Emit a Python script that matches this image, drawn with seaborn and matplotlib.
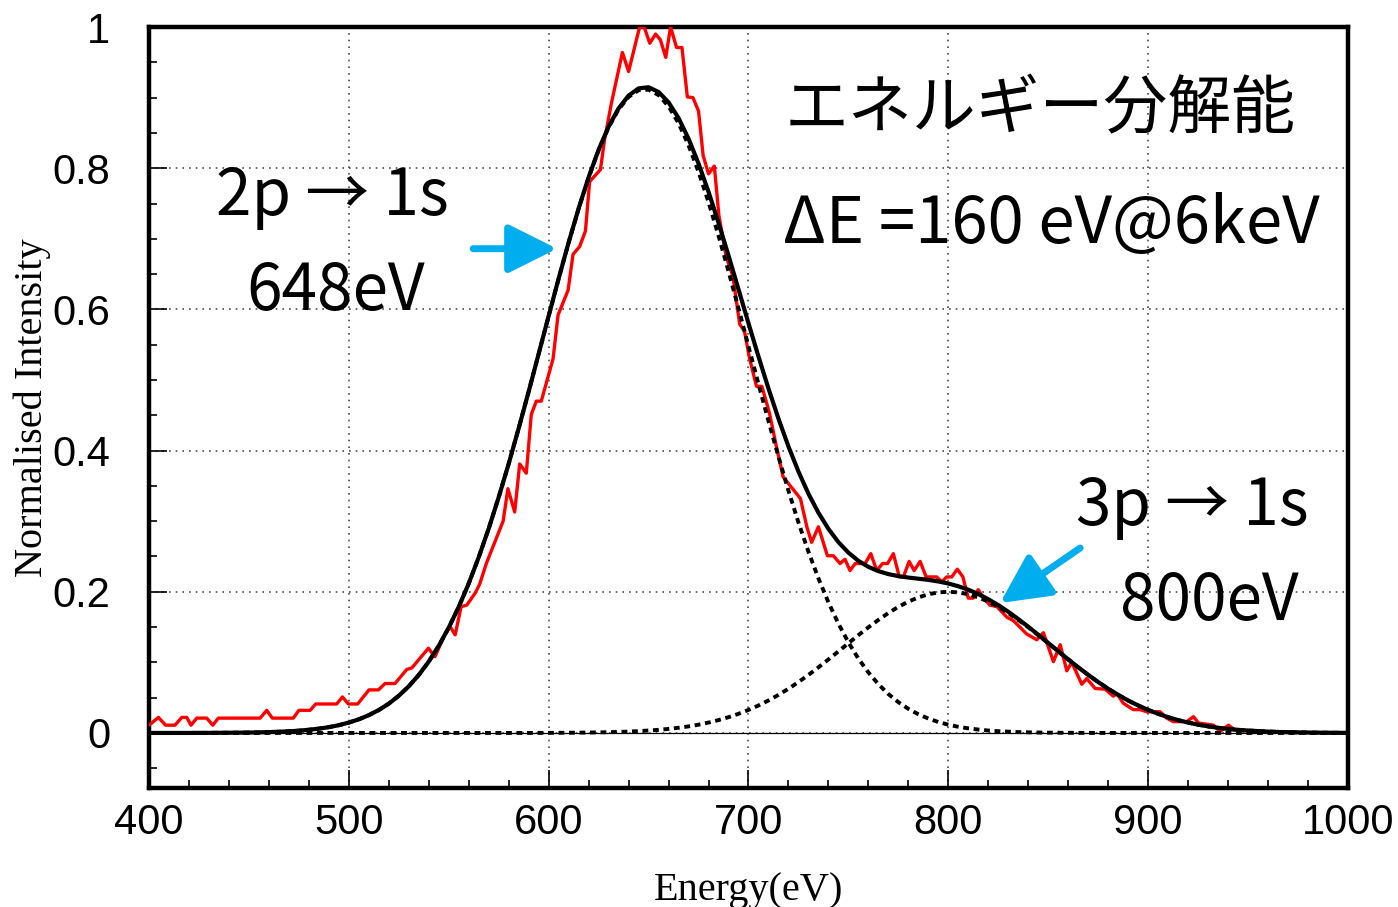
import matplotlib
matplotlib.use("Agg")
import matplotlib.pyplot as plt
import seaborn as sns
from matplotlib.ticker import MultipleLocator

# ----------------------
# data
# ----------------------
energy = list(range(400, 1001, 5))

# 2p -> 1s gaussian component (dotted)
comp_2p = [0.0, 0.0, 0.0, 0.0, 0.0,
           0.0001, 0.0001, 0.0002, 0.0003, 0.0004,
           0.0006, 0.0008, 0.0012, 0.0017, 0.0023,
           0.0032, 0.0045, 0.0061, 0.0082, 0.0110,
           0.0147, 0.0193, 0.0252, 0.0325, 0.0415,
           0.0527, 0.0661, 0.0821, 0.1011, 0.1234,
           0.1492, 0.1786, 0.2118, 0.2489, 0.2896,
           0.3340, 0.3814, 0.4316, 0.4837, 0.5371,
           0.5907, 0.6436, 0.6947, 0.7427, 0.7867,
           0.8254, 0.8579, 0.8834, 0.9010, 0.9105,
           0.9113, 0.9036, 0.8876, 0.8637, 0.8325,
           0.7949, 0.7519, 0.7045, 0.6540, 0.6014,
           0.5477, 0.4943, 0.4419, 0.3913, 0.3432,
           0.2982, 0.2567, 0.2190, 0.1850, 0.1548,
           0.1283, 0.1053, 0.0857, 0.0691, 0.0551,
           0.0436, 0.0341, 0.0265, 0.0204, 0.0155,
           0.0117, 0.0087, 0.0065, 0.0048, 0.0034,
           0.0025, 0.0018, 0.0012, 0.0009, 0.0006,
           0.0004, 0.0003, 0.0002, 0.0001, 0.0001,
           0.0, 0.0, 0.0, 0.0, 0.0,
           0.0, 0.0, 0.0, 0.0, 0.0,
           0.0, 0.0, 0.0, 0.0, 0.0,
           0.0, 0.0, 0.0, 0.0, 0.0,
           0.0, 0.0, 0.0, 0.0, 0.0,
           0.0]

# 3p -> 1s gaussian component (dotted)
comp_3p = [0.0, 0.0, 0.0, 0.0, 0.0,
           0.0, 0.0, 0.0, 0.0, 0.0,
           0.0, 0.0, 0.0, 0.0, 0.0,
           0.0, 0.0, 0.0, 0.0, 0.0,
           0.0, 0.0, 0.0, 0.0, 0.0,
           0.0, 0.0, 0.0, 0.0, 0.0,
           0.0, 0.0, 0.0, 0.0, 0.0,
           0.0, 0.0, 0.0, 0.0, 0.0001,
           0.0001, 0.0002, 0.0003, 0.0004, 0.0006,
           0.0008, 0.0011, 0.0014, 0.0019, 0.0026,
           0.0034, 0.0044, 0.0057, 0.0073, 0.0093,
           0.0117, 0.0147, 0.0182, 0.0223, 0.0271,
           0.0326, 0.0389, 0.0460, 0.0539, 0.0626,
           0.0721, 0.0822, 0.0929, 0.1041, 0.1155,
           0.1271, 0.1385, 0.1496, 0.1601, 0.1699,
           0.1786, 0.1860, 0.1920, 0.1964, 0.1991,
           0.2000, 0.1991, 0.1964, 0.1920, 0.1860,
           0.1786, 0.1699, 0.1601, 0.1496, 0.1385,
           0.1271, 0.1155, 0.1041, 0.0929, 0.0822,
           0.0721, 0.0626, 0.0539, 0.0460, 0.0389,
           0.0326, 0.0271, 0.0223, 0.0182, 0.0147,
           0.0117, 0.0093, 0.0073, 0.0057, 0.0044,
           0.0034, 0.0026, 0.0019, 0.0014, 0.0011,
           0.0008, 0.0006, 0.0004, 0.0003, 0.0002,
           0.0001]

# total fit (solid black)
fit_total = [0.0, 0.0, 0.0, 0.0, 0.0,
             0.0001, 0.0001, 0.0002, 0.0003, 0.0004,
             0.0006, 0.0008, 0.0012, 0.0017, 0.0023,
             0.0032, 0.0045, 0.0061, 0.0082, 0.0110,
             0.0147, 0.0193, 0.0252, 0.0325, 0.0415,
             0.0527, 0.0661, 0.0821, 0.1011, 0.1234,
             0.1492, 0.1786, 0.2118, 0.2489, 0.2896,
             0.3340, 0.3814, 0.4316, 0.4837, 0.5372,
             0.5908, 0.6438, 0.6950, 0.7431, 0.7873,
             0.8262, 0.8590, 0.8848, 0.9029, 0.9131,
             0.9147, 0.9080, 0.8933, 0.8710, 0.8418,
             0.8066, 0.7666, 0.7227, 0.6763, 0.6285,
             0.5803, 0.5332, 0.4879, 0.4452, 0.4058,
             0.3703, 0.3389, 0.3119, 0.2891, 0.2703,
             0.2554, 0.2438, 0.2353, 0.2292, 0.2250,
             0.2222, 0.2201, 0.2185, 0.2168, 0.2146,
             0.2117, 0.2078, 0.2029, 0.1968, 0.1894,
             0.1811, 0.1717, 0.1613, 0.1505, 0.1391,
             0.1275, 0.1158, 0.1043, 0.0930, 0.0823,
             0.0721, 0.0626, 0.0539, 0.0460, 0.0389,
             0.0326, 0.0271, 0.0223, 0.0182, 0.0147,
             0.0117, 0.0093, 0.0073, 0.0057, 0.0044,
             0.0034, 0.0026, 0.0019, 0.0014, 0.0011,
             0.0008, 0.0006, 0.0004, 0.0003, 0.0002,
             0.0001]

# measured spectrum (red)
meas_energy = [400.0, 404.7, 408.3, 413.0, 416.4, 418.9, 421.0, 423.9, 428.9, 431.9,
               434.7, 455.6, 458.9, 461.7, 472.2, 475.0, 480.6, 483.4, 493.9, 496.8,
               499.8, 504.4, 510.1, 514.8, 518.1, 523.1, 529.0, 531.5, 539.8, 543.1,
               548.1, 550.6, 553.2, 556.2, 559.0, 563.2, 565.5, 568.8, 577.2, 579.6,
               583.0, 585.5, 588.8, 591.3, 593.8, 596.3, 602.2, 604.7, 609.7, 612.2,
               615.5, 618.4, 620.5, 625.9, 628.0, 631.4, 636.9, 640.0, 645.5, 647.8,
               650.6, 653.5, 655.9, 658.6, 661.0, 664.0, 666.7, 669.4, 672.2, 675.0,
               677.3, 680.0, 682.9, 685.2, 688.8, 692.2, 695.6, 698.0, 700.5, 704.0,
               706.7, 710.5, 713.8, 717.3, 719.8, 726.0, 729.2, 731.6, 735.0, 739.5,
               742.5, 745.8, 748.3, 750.8, 753.4, 758.4, 761.2, 764.2, 767.1, 769.6,
               772.5, 775.5, 777.5, 780.4, 782.9, 785.9, 788.9, 794.2, 796.7, 799.2,
               801.7, 804.5, 807.3, 810.0, 812.5, 815.0, 817.6, 820.9, 824.3, 829.3,
               832.6, 839.3, 844.3, 847.6, 852.6, 856.0, 859.3, 861.8, 866.8, 869.3,
               873.5, 878.5, 882.6, 884.3, 887.6, 892.6, 896.0, 899.3, 906.0, 909.3,
               912.6, 919.3, 922.7, 925.2, 932.7, 936.0, 940.2, 943.5, 956.0, 975.0]
meas_intensity = [0.011, 0.022, 0.011, 0.011, 0.022, 0.022, 0.011, 0.021, 0.021, 0.011,
                  0.021, 0.021, 0.032, 0.021, 0.021, 0.032, 0.032, 0.041, 0.041, 0.051,
                  0.041, 0.041, 0.061, 0.061, 0.070, 0.070, 0.090, 0.092, 0.120, 0.108,
                  0.140, 0.151, 0.139, 0.179, 0.181, 0.198, 0.211, 0.240, 0.300, 0.346,
                  0.313, 0.381, 0.368, 0.451, 0.470, 0.470, 0.530, 0.592, 0.627, 0.678,
                  0.689, 0.711, 0.781, 0.798, 0.841, 0.892, 0.964, 0.937, 1.000, 1.000,
                  0.977, 0.990, 0.982, 0.957, 1.000, 0.971, 0.971, 0.901, 0.900, 0.881,
                  0.818, 0.792, 0.803, 0.733, 0.675, 0.647, 0.579, 0.569, 0.531, 0.491,
                  0.491, 0.453, 0.408, 0.363, 0.354, 0.332, 0.292, 0.270, 0.292, 0.251,
                  0.251, 0.240, 0.246, 0.230, 0.240, 0.240, 0.254, 0.230, 0.240, 0.240,
                  0.254, 0.221, 0.221, 0.243, 0.230, 0.243, 0.221, 0.221, 0.214, 0.221,
                  0.221, 0.232, 0.221, 0.191, 0.191, 0.203, 0.191, 0.181, 0.179, 0.164,
                  0.159, 0.140, 0.132, 0.142, 0.101, 0.125, 0.088, 0.100, 0.069, 0.077,
                  0.063, 0.062, 0.052, 0.056, 0.042, 0.033, 0.033, 0.030, 0.030, 0.021,
                  0.016, 0.016, 0.023, 0.014, 0.011, 0.002, 0.011, 0.004, 0.002, 0.001]

x_ticks = [400, 500, 600, 700, 800, 900, 1000]
y_ticks = [0, 0.2, 0.4, 0.6, 0.8, 1.0]
y_tick_labels = ["0", "0.2", "0.4", "0.6", "0.8", "1"]

# ----------------------
# style
# ----------------------
sns.set_theme(style="white")
plt.rcParams["font.family"] = ["Liberation Sans", "DejaVu Sans", "Noto Sans CJK JP"]
for k in ["text.color", "axes.labelcolor", "xtick.color", "ytick.color"]:
    plt.rcParams[k] = "black"
ann_font = ["Noto Sans CJK JP", "DejaVu Sans"]
blue = "#00AEEF"
dots = (0, (1.5, 1.2))

fig = plt.figure(figsize=(13.98, 9.07), dpi=100)
ax = fig.add_axes([0.1066, 0.1312, 0.8576, 0.8390])

ax.axhline(0, color="black", lw=0.9, zorder=1)
sns.lineplot(x=meas_energy, y=meas_intensity, ax=ax, color="red", lw=2.4,
             estimator=None, sort=False, zorder=3)
sns.lineplot(x=energy, y=comp_2p, ax=ax, color="black", lw=2.8,
             linestyle=dots, estimator=None, sort=False, zorder=4)
sns.lineplot(x=energy, y=comp_3p, ax=ax, color="black", lw=2.8,
             linestyle=dots, estimator=None, sort=False, zorder=4)
sns.lineplot(x=energy, y=fit_total, ax=ax, color="black", lw=3.0,
             estimator=None, sort=False, zorder=5)

ax.set_xlim(400, 1000)
ax.set_ylim(-0.078, 1.0)
ax.set_xticks(x_ticks)
ax.set_yticks(y_ticks)
ax.set_yticklabels(y_tick_labels)
ax.xaxis.set_minor_locator(MultipleLocator(20))
ax.yaxis.set_minor_locator(MultipleLocator(0.05))
ax.tick_params(which="both", direction="in", top=False, right=False,
               bottom=True, left=True, color="black", width=1.2)
ax.tick_params(which="major", length=13, labelsize=30, labelcolor="black")
ax.tick_params(axis="y", which="major", pad=28)
ax.tick_params(axis="x", which="major", pad=11)
ax.tick_params(which="minor", length=6)

ax.grid(True, which="major", linestyle=(0, (1, 3)), color="0.3", lw=1.2)
for s in ax.spines.values():
    s.set_linewidth(3.2)
    s.set_color("black")

ax.set_xlabel("Energy(eV)", family="Liberation Serif", fontsize=29, va="center", color="black")
ax.set_ylabel("Normalised Intensity", family="Liberation Serif", fontsize=29, va="center", color="black")
ax.xaxis.set_label_coords(0.5, -0.135)
ax.yaxis.set_label_coords(-0.097, 0.5)

# annotations
ax.text(433.5, 0.734, "2p → 1s", family=ann_font, fontsize=46, va="baseline", color="black")
ax.text(448.5, 0.599, "648eV", family=ann_font, fontsize=46, va="baseline", color="black")
ax.text(718.0, 0.882, "エネルギー分解能", family=ann_font, fontsize=46, va="center", color="black")
ax.text(717.5, 0.694, "ΔE =160 eV@6keV", family=ann_font, fontsize=47, va="baseline", color="black")
ax.text(864.0, 0.295, "3p → 1s", family=ann_font, fontsize=46, va="baseline", color="black")
ax.text(886.0, 0.160, "800eV", family=ann_font, fontsize=46, va="baseline", color="black")

arrow_style = "-|>,head_length=1.5,head_width=0.75"
ax.annotate("", xy=(604.2, 0.686), xytext=(562.2, 0.686),
            arrowprops=dict(arrowstyle=arrow_style, color=blue, lw=5,
                            mutation_scale=20, shrinkA=0, shrinkB=0), zorder=6)
ax.annotate("", xy=(825.9, 0.184), xytext=(866.0, 0.262),
            arrowprops=dict(arrowstyle=arrow_style, color=blue, lw=5,
                            mutation_scale=20, shrinkA=0, shrinkB=0), zorder=6)

fig.savefig("out.png", dpi=100)
